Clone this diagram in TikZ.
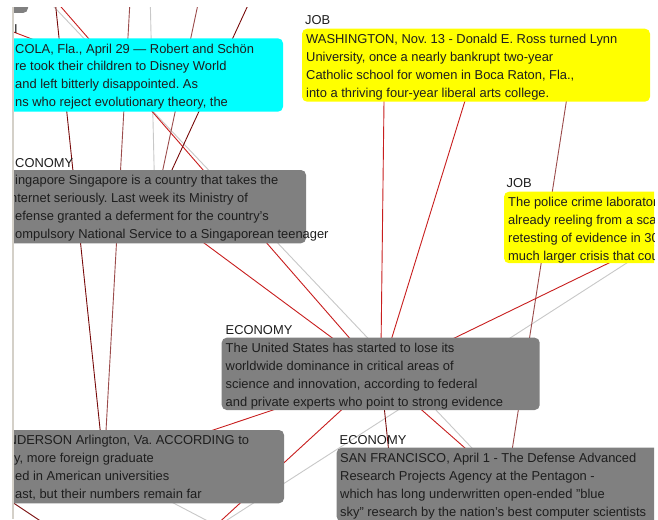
\documentclass[tikz,border=0pt]{standalone}
\usepackage{fontspec}
\setmainfont{Liberation Sans}
\usetikzlibrary{backgrounds}
\definecolor{cred}{RGB}{200,30,30}
\definecolor{cdark}{RGB}{120,10,10}
\definecolor{cbrown}{RGB}{155,75,75}
\definecolor{cgray}{RGB}{200,200,200}
\definecolor{bord}{RGB}{212,208,200}
\definecolor{bgray}{RGB}{128,128,128}
\definecolor{bcyan}{RGB}{0,255,255}
\definecolor{byel}{RGB}{255,255,0}
\definecolor{tc}{RGB}{30,30,30}
\frenchspacing
\begin{document}
\begin{tikzpicture}[x=1pt,y=-1pt,
  box/.style={rounded corners=5pt, inner sep=0pt, outer sep=0pt, anchor=north west, draw=none},
  txt/.style={anchor=north west, inner sep=0pt, align=left, font=\fontsize{12.9}{17.9}\selectfont, text=tc},
  lbl/.style={anchor=base west, inner sep=0pt, font=\fontsize{12.9}{15}\selectfont, text=tc},
  ered/.style={draw=cred, line width=0.9pt},
  edark/.style={draw=cdark, line width=0.9pt},
  ebrown/.style={draw=cbrown, line width=0.9pt},
  egray/.style={draw=cgray, line width=0.9pt}]
\useasboundingbox (0,0) rectangle (658,519);
% off-screen end points
\coordinate (p1) at (54,-10);
\coordinate (p2) at (46.3,-10);
\coordinate (p3) at (38,-10);
\coordinate (p4) at (150,-10);
\coordinate (p5) at (201,-10);
\coordinate (p6) at (255,-10);
\coordinate (p8) at (130.6,-10);
\coordinate (p9) at (384.5,60);
\coordinate (p11) at (572,65);
\coordinate (p13) at (196,540);
\coordinate (p15) at (200,540);
\coordinate (p17) at (398,540);
\coordinate (p18) at (244,540);
\coordinate (p19a) at (0,494);
\coordinate (p19b) at (69,540);
\coordinate (p20) at (-10,23);
\begin{scope}
\clip (14,7.5) rectangle (654,519);
\node[box, fill=bgray, minimum width=80pt, minimum height=40pt] (tb) at (-52,-27) {};
\node[box, fill=bcyan, minimum width=314pt, minimum height=73.4pt] (cy) at (-31,38.3) {};
\node[box, fill=byel, minimum width=348pt, minimum height=73pt] (wa) at (302,28.7) {};
\node[box, fill=bgray, minimum width=302pt, minimum height=73.3pt] (sg) at (4,170) {};
\node[box, fill=byel, minimum width=356pt, minimum height=71.5pt] (po) at (504,191.7) {};
\node[box, fill=bgray, minimum width=318pt, minimum height=72.3pt] (us) at (221.7,337.7) {};
\node[box, fill=bgray, minimum width=360pt, minimum height=73.3pt] (an) at (-76,430) {};
\node[box, fill=bgray, minimum width=340pt, minimum height=74pt] (sf) at (336.7,447.7) {};
% labels
\node[lbl] (lcy) at (14,33.5) {I};
\node[lbl] (lwa) at (305,25) {JOB};
\node[lbl] (lsg) at (15,167.5) {CONOMY};
\node[lbl] (lpo) at (506.5,187.5) {JOB};
\node[lbl] (lus) at (225.5,334) {ECONOMY};
\node[lbl] (lsf) at (339.5,444) {ECONOMY};
% texts
\node[txt] (tcy) at (15,40.3) {\strut COLA, Fla., April 29 — Robert and Schön\\re took their children to Disney World\\and left bitterly disappointed. As\\ns who reject evolutionary theory, the};
\node[txt] (twa) at (306,30.7) {\strut WASHINGTON, Nov. 13 - Donald E. Ross turned Lynn\\University, once a nearly bankrupt two-year\\Catholic school for women in Boca Raton, Fla.,\\into a thriving four-year liberal arts college.};
\node[txt] (tsg) at (15,172) {\strut ingapore Singapore is a country that takes the\\\hspace{-5pt}nternet seriously. Last week its Ministry of\\efense granted a deferment for the country's\\ompulsory National Service to a Singaporean teenager};
\node[txt] (tpo) at (508,193.7) {\strut The police crime laboratory\\already reeling from a scandal\\retesting of evidence in 30\\much larger crisis that could};
\node[txt] (tus) at (225.5,339.7) {\strut The United States has started to lose its\\worldwide dominance in critical areas of\\science and innovation, according to federal\\and private experts who point to strong evidence};
\node[txt] (tan) at (15,432) {\strut\hspace{-7.5pt}NDERSON Arlington, Va. ACCORDING to\\\hspace{-1pt}y, more foreign graduate\\ed in American universities\\ast, but their numbers remain far};
\node[txt] (tsf) at (340,449.7) {\strut SAN FRANCISCO, April 1 - The Defense Advanced\\Research Projects Agency at the Pentagon -\\which has long underwritten open-ended "blue\\sky" research by the nation's best computer scientists};
\end{scope}
\begin{pgfonlayer}{background}
\fill[white] (0,0) rectangle (658,519);
\begin{scope}
\clip (14,7.5) rectangle (654,519);
\draw[egray] (p3) -- (sf.center);
\draw[egray] (p4) -- (sg.center);
\draw[egray] (p13) -- (po.center);
\draw[egray] (an.center) -- (p18);
\draw[edark] (p1) -- (an.center);
\draw[ered] (p2) -- (us.center);
\draw[ebrown] (p5) -- (sg.center);
\draw[edark] (p6) -- (sg.center);
\draw[ebrown] (p8) -- (an.center);
\draw[ered] (sg.center) -- (us.center);
\draw[ered] (p9) -- (us.center);
\draw[ered] (wa.center) -- (us.center);
\draw[ebrown] (p11) -- (sf.center);
\draw[ered] (po.center) -- (us.center);
\draw[ered] (an.center) -- (us.center);
\draw[ered] (us.center) -- (p15);
\draw[ered] (us.center) -- (sf.center);
\draw[edark] (us.center) -- (p17);
\draw[edark] (p19a) -- (p19b);
\draw[ered] (p20) -- (cy.center);
\end{scope}
\draw[draw=bord, line width=1.8pt] (13.3,7.5) -- (13.3,519);
\end{pgfonlayer}
\end{tikzpicture}
\end{document}
